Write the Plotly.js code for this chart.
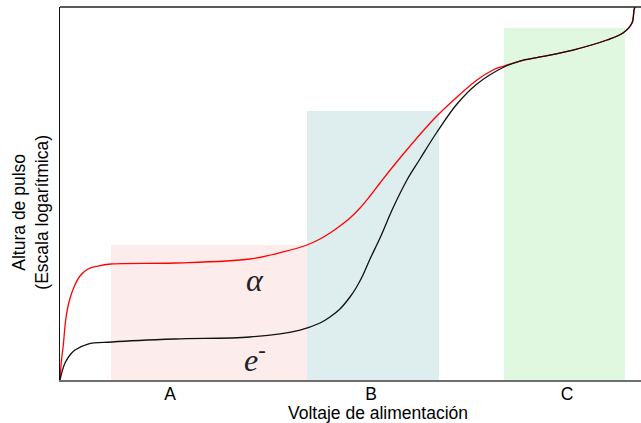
<!DOCTYPE html>
<html>
<head>
<meta charset="utf-8">
<script src="https://cdn.plot.ly/plotly-3.0.1.min.js"></script>
<style>html,body{margin:0;padding:0;background:#fff;}#chart{width:641px;height:423px;}</style>
</head>
<body>
<div id="chart"></div>
<script>
// Regions (arbitrary voltage / log pulse-height units)
const regionNames = ["A", "B", "C"];
const regionStart = [0.878, 4.251, 7.642];
const regionEnd = [4.251, 6.523, 9.725];
const regionTop = [3.62, 7.21, 9.437];
const regionColors = ["rgba(253,236,236,1)", "rgba(222,237,237,1)", "rgba(224,247,224,1)"];
const tickPositions = [1.893, 5.353, 8.726];

// alpha particle curve
const alphaX = [0, 0.026, 0.057, 0.098, 0.155, 0.241, 0.344, 0.482, 0.654, 0.878, 1.979, 3.270, 3.838, 4.251, 4.475, 4.647, 4.819, 4.991, 5.164, 5.336, 5.508, 5.852, 6.420, 6.833, 7.177, 7.453, 7.642, 7.917, 8.262, 8.830, 9.415, 9.690, 9.845, 9.880, 9.897];
const alphaY = [0, 0.536, 0.938, 1.609, 2.091, 2.493, 2.788, 2.976, 3.056, 3.110, 3.137, 3.244, 3.432, 3.619, 3.780, 3.941, 4.129, 4.343, 4.611, 4.933, 5.282, 5.952, 6.971, 7.587, 8.043, 8.311, 8.418, 8.552, 8.660, 8.847, 9.115, 9.303, 9.571, 9.920, 10.0];

// electron curve
const electronX = [0, 0.029, 0.086, 0.172, 0.258, 0.482, 0.895, 1.979, 3.270, 4.131, 4.475, 4.647, 4.819, 4.991, 5.095, 5.215, 5.336, 5.508, 5.731, 5.972, 6.196, 6.489, 6.833, 7.177, 7.642, 7.917, 8.262, 8.830, 9.415, 9.690, 9.845, 9.880, 9.897];
const electronY = [0, 0.188, 0.456, 0.670, 0.804, 0.965, 1.019, 1.099, 1.153, 1.340, 1.528, 1.689, 1.903, 2.225, 2.466, 2.815, 3.244, 3.807, 4.611, 5.362, 5.925, 6.649, 7.399, 7.936, 8.391, 8.552, 8.660, 8.847, 9.115, 9.303, 9.571, 9.920, 10.0];

const labelX = [3.357, 3.357];
const labelY = [2.68, 0.59];
const labelText = ["<i>α</i>", "<i>e</i><sup>-</sup>"];

const shapes = regionNames.map((n, i) => ({
  type: "rect", xref: "x", yref: "y", layer: "below",
  x0: regionStart[i], x1: regionEnd[i], y0: 0, y1: regionTop[i],
  fillcolor: regionColors[i], line: {width: 0}
}));
shapes.push({type: "line", xref: "paper", yref: "paper", x0: 0, x1: 1, y0: 1, y1: 1, line: {color: "#222", width: 1.5}});

const annotations = labelText.map((t, i) => ({
  x: labelX[i], y: labelY[i], xref: "x", yref: "y", text: t, showarrow: false,
  font: {family: "Liberation Serif", size: 32, color: "#222"}
}));
annotations.push({
  x: 0.547, y: -0.0885, xref: "paper", yref: "paper", text: "Voltaje de alimentación",
  showarrow: false, xanchor: "center", yanchor: "middle",
  font: {family: "Liberation Sans, Arial", size: 17.5, color: "#000"}
});
annotations.push({
  x: -0.0508, y: 0.45, xref: "paper", yref: "paper", text: "Altura de pulso<br>(Escala logarítmica)",
  showarrow: false, textangle: -90, xanchor: "center", yanchor: "middle",
  font: {family: "Liberation Sans, Arial", size: 17.5, color: "#000"}
});

const traces = [
  {x: alphaX, y: alphaY, mode: "lines", line: {color: "#ff0000", width: 1.3, shape: "spline", smoothing: 1}, hoverinfo: "skip"},
  {x: electronX, y: electronY, mode: "lines", line: {color: "#111", width: 1.3, shape: "spline", smoothing: 1}, hoverinfo: "skip"}
];

const layout = {
  width: 641, height: 423,
  margin: {l: 60, r: 0, t: 7, b: 43},
  paper_bgcolor: "#fff", plot_bgcolor: "#fff",
  showlegend: false,
  xaxis: {range: [0, 10], showgrid: false, zeroline: false, showline: true, linecolor: "#6f6f6f", linewidth: 2,
    tickvals: tickPositions, ticktext: regionNames, ticks: "", ticklabelstandoff: -3,
    tickfont: {family: "Liberation Sans, Arial", size: 17.5, color: "#000"}},
  yaxis: {range: [0, 10], showgrid: false, zeroline: false, showline: true, linecolor: "#111", linewidth: 1.5,
    showticklabels: false, ticks: ""},
  shapes: shapes,
  annotations: annotations
};

Plotly.newPlot("chart", traces, layout, {staticPlot: true, displayModeBar: false});
</script>
</body>
</html>
